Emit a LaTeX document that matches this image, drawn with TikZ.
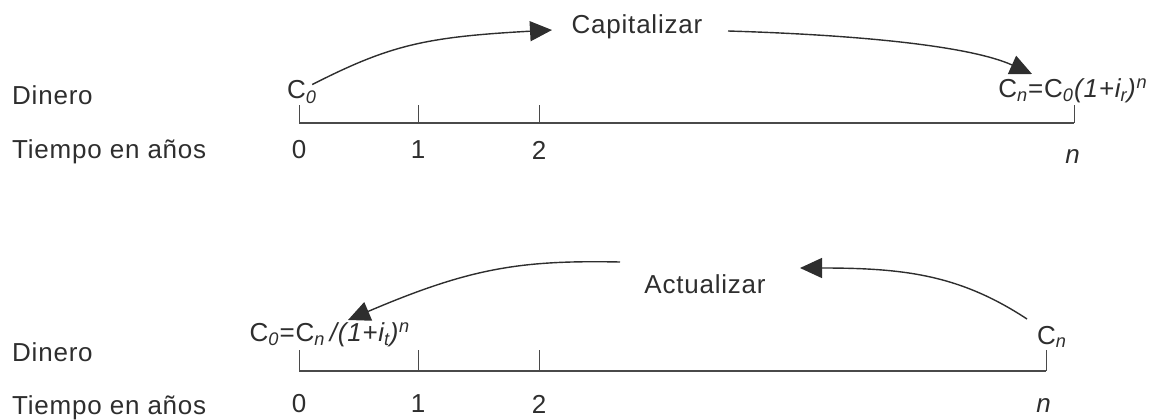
\documentclass[tikz,border=0pt]{standalone}
\usepackage{fontspec}
\setmainfont{Liberation Sans}[LetterSpace=3]
\usetikzlibrary{arrows.meta}
\definecolor{ink}{HTML}{2E2E2E}
\definecolor{ln}{HTML}{4A4A4A}
\tikzset{
  lbl/.style={inner sep=0pt, text=ink, font=\fontsize{26}{29}\selectfont},
  axisthick/.style={draw=ln, line width=2.2pt},
  axisthin/.style={draw=ln, line width=1.1pt},
  tickln/.style={draw=ln, line width=1pt},
  arr/.style={draw=ink, line width=1.4pt, -{Triangle[length=22pt,width=20pt]}},
}
\newcommand{\sub}[1]{\textsubscript{\textit{#1}}}
\newcommand{\sups}[1]{\textsuperscript{\textit{#1}}}
\begin{document}
\begin{tikzpicture}[x=1pt,y=-1pt]
\useasboundingbox (0,0) rectangle (1156,420);
% ---------- top ----------
\node[lbl, anchor=west] (dinA) at (12,95) {Dinero};
\node[lbl, anchor=west] (tiempoA) at (12,152) {Tiempo en años};
\coordinate (a0) at (299,105);
\coordinate (a1) at (418,105);
\coordinate (a2) at (539,105);
\coordinate (an) at (1074,105);
\draw[axisthick] (299,123) -- (1074,123);
\draw[tickln] (a0) -- (299,123);
\draw[tickln] (a1) -- (418,123);
\draw[tickln] (a2) -- (539,123);
\draw[tickln] (an) -- (1074,123);
\node[lbl] (nA0) at (299,150) {0};
\node[lbl] (nA1) at (418,150) {1};
\node[lbl] (nA2) at (539,150) {2};
\node[lbl] (nAn) at (1073,157) {\textit{n}};
\node[lbl] (c0A) at (302,92) {C\sub{0}};
\node[lbl] (cnA) at (1073,91) {C\sub{n}=C\sub{0}\textit{(1+i\textsubscript{r})}\sups{n}};
\node[lbl] (cap) at (637,27) {Capitalizar};
\coordinate (capL) at (552,30);
\coordinate (capR) at (728,31);
\coordinate (cnAtop) at (1032,74);
\draw[arr] (c0A.north east) ++(-5,4) coordinate (c0As)
  .. controls (390,45) and (425,37) .. (capL);
\draw[arr] (capR) .. controls (860,35) and (970,46) .. (cnAtop);
% ---------- bottom ----------
\node[lbl, anchor=west] (dinB) at (12,352) {Dinero};
\node[lbl, anchor=west] (tiempoB) at (12,408) {Tiempo en años};
\coordinate (b0) at (299,350);
\coordinate (b1) at (418,350);
\coordinate (b2) at (539,350);
\coordinate (bn) at (1046,350);
\draw[axisthin] (299,371) -- (1046,371);
\draw[tickln] (b0) -- (299,371);
\draw[tickln] (b1) -- (418,371);
\draw[tickln] (b2) -- (539,371);
\draw[tickln] (bn) -- (1046,371);
\node[lbl] (nB0) at (299,404) {0};
\node[lbl] (nB1) at (418,404) {1};
\node[lbl] (nB2) at (539,404) {2};
\node[lbl] (nBn) at (1044,406) {\textit{n}};
\node[lbl] (c0B) at (330,335) {C\sub{0}=C\sub{n}\,\textit{/(1+i\textsubscript{t})}\sups{n}};
\node[lbl] (cnB) at (1052,337) {C\sub{n}};
\node[lbl] (act) at (705,284) {Actualizar};
\coordinate (actL) at (620,262);
\coordinate (actR) at (800,268);
\coordinate (c0Btip) at (348,320);
\coordinate (cnBs) at (1027,319);
\draw[arr] (actL) .. controls (520,260) and (470,268) .. (c0Btip);
\draw[arr] (cnBs) .. controls (960,275) and (905,268) .. (actR);
\end{tikzpicture}
\end{document}
